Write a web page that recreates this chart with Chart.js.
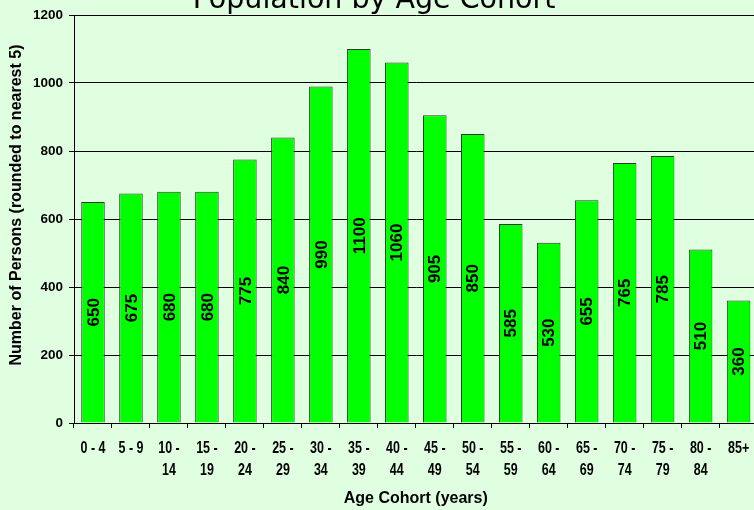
<!DOCTYPE html>
<html>
<head>
<meta charset="utf-8">
<script src="https://cdn.jsdelivr.net/npm/chart.js@4/dist/chart.umd.min.js"></script>
<style>
html,body{margin:0;padding:0;background:#e0ffe0;overflow:hidden;}
#wrap{width:754px;height:510px;overflow:hidden;position:relative;}
#c{position:absolute;left:0;top:0;}
</style>
</head>
<body>
<div id="wrap"><canvas id="c" width="760" height="510"></canvas></div>
<script>
const chartTitle = "Population by Age Cohort";
const categories = [["0 - 4"],["5 - 9"],["10 -","14"],["15 -","19"],["20 -","24"],["25 -","29"],["30 -","34"],["35 -","39"],["40 -","44"],["45 -","49"],["50 -","54"],["55 -","59"],["60 -","64"],["65 -","69"],["70 -","74"],["75 -","79"],["80 -","84"],["85+"]];
const persons = [650,675,680,680,775,840,990,1100,1060,905,850,585,530,655,765,785,510,360];
const yTitle = "Number of Persons (rounded to nearest 5)";
const xTitle = "Age Cohort (years)";

const arial = "'Liberation Sans',Arial,sans-serif";

const bgPlugin = {
  id:'bg',
  beforeDraw(chart){
    const ctx = chart.ctx;
    ctx.save();
    ctx.fillStyle = '#e0ffe0';
    ctx.fillRect(0,0,chart.width,chart.height);
    ctx.restore();
  }
};

const titlePlugin = {
  id:'topTitle',
  afterDraw(chart){
    const ctx = chart.ctx;
    ctx.save();
    ctx.font = "28.5px 'DejaVu Sans',sans-serif";
    ctx.fillStyle = '#000';
    ctx.textAlign = 'center';
    ctx.textBaseline = 'alphabetic';
    ctx.fillText(chartTitle, 374, 8);
    // y axis title
    ctx.font = "bold 16px " + arial;
    ctx.textBaseline = 'middle';
    ctx.translate(17, 205);
    ctx.rotate(-Math.PI/2);
    ctx.fillText(yTitle, 0, 0);
    ctx.restore();
  }
};

// condensed tick labels drawn at the x scale's own tick positions
const xLabelPlugin = {
  id:'xLabels',
  afterDraw(chart){
    const ctx = chart.ctx;
    const xs = chart.scales.x;
    const base = chart.chartArea.bottom;
    ctx.save();
    ctx.font = "bold 16px " + arial;
    ctx.fillStyle = '#000';
    ctx.textAlign = 'center';
    ctx.textBaseline = 'middle';
    categories.forEach((lines, i) => {
      const x = xs.getPixelForTick(i);
      lines.forEach((t, j) => {
        ctx.save();
        ctx.translate(x, base + 26 + j * 22);
        ctx.scale(0.78, 1);
        ctx.fillText(t, 0, 0);
        ctx.restore();
      });
    });
    ctx.restore();
  }
};

const labelPlugin = {
  id:'barLabels',
  afterDatasetsDraw(chart){
    const ctx = chart.ctx;
    const meta = chart.getDatasetMeta(0);
    ctx.save();
    ctx.font = "bold 17px " + arial;
    ctx.fillStyle = '#000';
    ctx.textAlign = 'center';
    ctx.textBaseline = 'middle';
    meta.data.forEach((bar, i) => {
      const cy = (bar.y + bar.base) / 2;
      ctx.save();
      ctx.translate(bar.x, cy);
      ctx.rotate(-Math.PI/2);
      ctx.fillText(String(persons[i]), 0, 1);
      ctx.restore();
    });
    ctx.restore();
  }
};

new Chart(document.getElementById('c'), {
  type:'bar',
  data:{
    labels: categories,
    datasets:[{
      data: persons,
      backgroundColor:'#00ff00',
      borderColor:'#333333',
      borderWidth:1,
      categoryPercentage:1,
      barPercentage:0.62
    }]
  },
  plugins:[bgPlugin, titlePlugin, labelPlugin, xLabelPlugin],
  options:{
    responsive:false,
    animation:false,
    devicePixelRatio:1,
    layout:{padding:{top:15,right:2.4,left:0,bottom:0}},
    plugins:{legend:{display:false},tooltip:{enabled:false},title:{display:false}},
    scales:{
      x:{
        offset:true,
        grid:{display:true,drawOnChartArea:false,drawTicks:true,tickLength:5,color:'#000',offset:true},
        border:{display:true,color:'#000',width:1},
        ticks:{color:'rgba(0,0,0,0)',font:{family:arial,size:15,weight:'bold'},padding:8,maxRotation:0,autoSkip:false},
        title:{display:true,text:xTitle,color:'#000',font:{family:arial,size:16,weight:'bold'},padding:{top:0,bottom:2}},
        afterFit(s){ s.height = 87; }
      },
      y:{
        min:0,max:1200,
        ticks:{stepSize:200,color:'#000',font:{family:arial,size:13.5,weight:'bold'},padding:6,callback:(v)=>String(v)},
        grid:{color:'#000',lineWidth:1,tickLength:5,drawTicks:true},
        border:{display:true,color:'#000',width:1},
        title:{display:false},
        afterFit(s){ s.width = 74; }
      }
    }
  }
});
</script>
</body>
</html>
